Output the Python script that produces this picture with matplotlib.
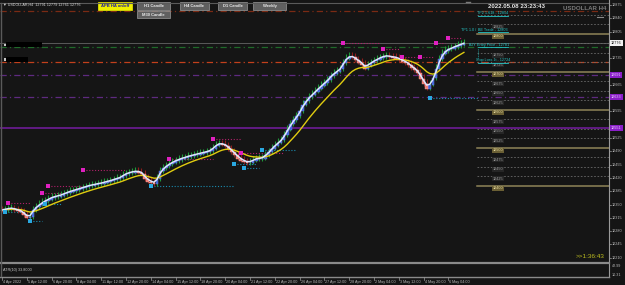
import numpy as np
import matplotlib
matplotlib.use('Agg')
import matplotlib.pyplot as plt
from matplotlib.patches import Rectangle

W, H = 625, 285
BG = '#151515'
plt.rcParams['font.family'] = ['Liberation Sans', 'DejaVu Sans']

# ---------------- data ----------------
closes = [12336, 12338, 12340, 12341, 12338, 12335, 12333, 12325, 12318, 12320,
          12338, 12346, 12352, 12357, 12362, 12366, 12370, 12372, 12374, 12376,
          12380, 12383, 12386, 12388, 12391, 12393, 12396, 12398, 12401, 12402,
          12404, 12406, 12407, 12410, 12412, 12414, 12417, 12420, 12422, 12428,
          12433, 12435, 12437, 12438, 12437, 12433, 12420, 12413, 12409, 12407,
          12420, 12440, 12448, 12454, 12459, 12463, 12467, 12470, 12473, 12475,
          12478, 12480, 12482, 12484, 12486, 12488, 12490, 12493, 12500, 12508,
          12512, 12510, 12506, 12498, 12490, 12482, 12474, 12468, 12464, 12461,
          12463, 12468, 12472, 12472, 12474, 12482, 12490, 12500, 12508, 12515,
          12522, 12535, 12550, 12564, 12575, 12585, 12598, 12615, 12625, 12635,
          12642, 12650, 12658, 12665, 12672, 12680, 12690, 12697, 12703, 12709,
          12725, 12737, 12742, 12740, 12733, 12726, 12720, 12710, 12718, 12725,
          12730, 12734, 12738, 12741, 12742, 12740, 12738, 12737, 12733, 12729,
          12725, 12720, 12712, 12706, 12698, 12684, 12670, 12658, 12668, 12685,
          12710, 12735, 12750, 12757, 12761, 12763, 12767, 12770, 12773, 12776]

x_labels = ["4 Apr 2022", "5 Apr 12:00", "6 Apr 20:00", "8 Apr 04:00", "11 Apr 12:00",
            "12 Apr 20:00", "14 Apr 04:00", "15 Apr 12:00", "18 Apr 20:00", "20 Apr 04:00",
            "21 Apr 12:00", "22 Apr 20:00", "26 Apr 04:00", "27 Apr 12:00", "28 Apr 20:00",
            "2 May 04:00", "3 May 12:00", "4 May 20:00", "6 May 04:00"]
x_label_bars = [0, 8, 16, 24, 32, 40, 48, 56, 64, 72, 80, 88, 96, 104, 112, 120, 128, 136, 144]

price_ticks = [12875, 12840, 12805, 12770, 12735, 12700, 12665, 12630, 12595, 12560,
               12525, 12490, 12455, 12420, 12385, 12350, 12315, 12280, 12245, 12210]
covered_ticks = [12770, 12700, 12630, 12560]

major_levels = [12800, 12700, 12600, 12500, 12400]
minor_levels = [12850, 12825, 12775, 12750, 12725, 12675, 12650, 12625,
                12575, 12550, 12525, 12475, 12450, 12425]
hidden_level_labels = [12850, 12775]

# swing highs / lows: bar, price, bar where dotted line ends
swing_high_bar = [2, 13, 15, 26, 54, 68, 77, 110, 123, 129, 135, 140, 144]
swing_high_px = [12354, 12380, 12399, 12441, 12470, 12522, 12485, 12775, 12759, 12738, 12738, 12775, 12788]
swing_high_end = [9, 19, 26, 40, 68, 77, 91, 122, 128, 134, 139, 143, 148]
swing_low_bar = [1, 9, 14, 48, 75, 78, 84, 138]
swing_low_px = [12330, 12307, 12351, 12399, 12457, 12446, 12493, 12630]
swing_low_end = [6, 13, 19, 75, 82, 83, 95, 154]

current_price = 12776
dash_levels = [12859, 12764, 12725, 12691, 12633]
dash_colors = ['#7a2a14', '#1f6a2a', '#c2401c', '#5e2a80', '#5e2a80']
solid_purple = 12551
tag_levels = [12691, 12633, 12551]

trade_labels = ["TP2 1.618 - 12854", "BE Trade - 12803", "Entry Price - 12781", "Stop Loss 1t - 12724"]
trade_prefix = ["", "TP1 1.0 /", "BUY", ""]
trade_y = [13.5, 30, 45, 60.5]

# ---------------- helpers ----------------
def fx(x):
    return x / W

def fy(y):
    return 1 - y / H

Y_TOP, Y_BOT = 3, 262
P_TOP, P_BOT = 12880.3, 12198.7

def ypix(p):
    return Y_TOP + (P_TOP - p) / (P_TOP - P_BOT) * (Y_BOT - Y_TOP)

fig = plt.figure(figsize=(W / 100, H / 100), dpi=100, facecolor=BG)
ax = fig.add_axes([0, fy(Y_BOT), fx(609), (Y_BOT - Y_TOP) / H])
ax.set_facecolor(BG)
XMIN, XMAX = (0 - 2) / 3.1, (609 - 2) / 3.1
ax.set_xlim(XMIN, XMAX)
ax.set_ylim(P_BOT, P_TOP)
ax.set_xticks([])
ax.set_yticks([])
for s in ax.spines.values():
    s.set_visible(False)

def bx(px):
    return (px - 2) / 3.1

# full width dash-dot levels
for lv, col in zip(dash_levels, dash_colors):
    ax.axhline(lv, color=col, lw=0.9, ls=(0, (5, 2.5, 1, 2.5)), zorder=1)
ax.axhline(solid_purple, color='#6d1c96', lw=1.2, zorder=1)
ax.axhline(current_price, color='#5a5a5a', lw=0.7, zorder=1)

# right-side level grid
xs0 = bx(477)
for lv in major_levels:
    ax.plot([xs0, XMAX], [lv, lv], color='#8f8458', lw=1.1, zorder=1)
    ax.text(bx(498), lv - 2, str(lv), fontsize=2.7, color='#e8dca0', ha='center', va='top',
            bbox=dict(boxstyle='square,pad=0.15', fc='#6a5f34', ec='none'), zorder=3)
for lv in minor_levels:
    ax.plot([xs0, XMAX], [lv, lv], color='#6a6a6a', lw=0.6, ls=(0, (2, 2)), zorder=1)
    if lv not in hidden_level_labels:
        ax.text(bx(498), lv - 2, str(lv), fontsize=2.7, color='#9a9a9a', ha='center', va='top',
                bbox=dict(boxstyle='square,pad=0.15', fc='#262626', ec='none'), zorder=3)

# swing markers
for b, p, e in zip(swing_high_bar, swing_high_px, swing_high_end):
    ax.plot([b, e], [p, p], color='#b0206a', lw=0.8, ls=(0, (1, 1.6)), zorder=2)
    ax.plot([b], [p], 's', color='#e020c0', ms=2.2, mew=0, zorder=6)
for b, p, e in zip(swing_low_bar, swing_low_px, swing_low_end):
    ax.plot([b, e], [p, p], color='#1a8cb0', lw=0.8, ls=(0, (1, 1.6)), zorder=2)
    ax.plot([b], [p], 's', color='#2aa8e0', ms=2.2, mew=0, zorder=6)

# candles
c = np.array(closes, dtype=float)
n = len(c)
idx = np.arange(n)
o = np.empty(n)
o[0] = c[0] + 2
o[1:] = c[:-1]
up = c >= o
body_lo = np.minimum(o, c)
body_h = np.maximum(np.abs(c - o), 1.5)
wick_up, wick_dn = 9, 7
ax.vlines(idx[up], body_lo[up] - wick_dn, body_lo[up] + body_h[up] + wick_up,
          color='#1f9a3a', lw=0.8, zorder=3)
ax.vlines(idx[~up], body_lo[~up] - wick_dn, body_lo[~up] + body_h[~up] + wick_up,
          color='#8e1c1c', lw=0.8, zorder=3)
ax.bar(idx[up], body_h[up], bottom=body_lo[up] - 3, width=0.85, color='#3d5fd6',
       edgecolor='#6f8cf0', lw=0.3, zorder=4)
ax.bar(idx[~up], body_h[~up], bottom=body_lo[~up] - 3, width=0.85, color='#f07a72',
       edgecolor='#f6a29c', lw=0.3, zorder=4)

def ema(a, span):
    k = 2 / (span + 1)
    out = np.empty_like(a)
    out[0] = a[0]
    for i in range(1, len(a)):
        out[i] = a[i] * k + out[i - 1] * (1 - k)
    return out

ax.plot(idx, ema(c, 12), color='#e0cc10', lw=1.0, zorder=5)
ax.plot(idx, ema(c, 2), color='#dfe6ff', lw=1.1, zorder=5)

# trade labels (cyan, underlined)
for lab, pre, y in zip(trade_labels, trade_prefix, trade_y):
    fig.text(fx(493), fy(y), lab, fontsize=2.7, color='#25c8c8', ha='center', va='center')
    fig.add_artist(plt.Line2D([fx(478), fx(508)], [fy(y + 2.4), fy(y + 2.4)],
                              color='#25c8c8', lw=0.6))
    if pre:
        fig.text(fx(476.5), fy(y), pre, fontsize=2.7, color='#25c8c8', ha='right', va='center')
fig.add_artist(plt.Line2D([fx(478), fx(478)], [fy(49), fy(58)], color='#25c8c8', lw=0.6,
                          ls=(0, (1, 1.5))))

# frame lines
fig.add_artist(plt.Line2D([0, fx(609)], [fy(2.5), fy(2.5)], color='#5a5a5a', lw=0.8))
fig.add_artist(plt.Line2D([fx(609), fx(609)], [fy(0), fy(277)], color='#9a9a9a', lw=0.8))
fig.add_artist(plt.Line2D([0, fx(609)], [fy(263), fy(263)], color='#8a8a8a', lw=1.6))
fig.add_artist(plt.Line2D([0, fx(609)], [fy(276.5), fy(276.5)], color='#8a8a8a', lw=1.0))
fig.add_artist(plt.Line2D([fx(1), fx(1)], [fy(2.5), fy(276)], color='#5a5a5a', lw=1.0))
fig.add_artist(plt.Line2D([fx(466), fx(470)], [fy(1.5), fy(1.5)], color='#7a7a7a', lw=1.0))

# right price axis
for p in price_ticks:
    y = ypix(p)
    fig.add_artist(plt.Line2D([fx(609), fx(611)], [fy(y), fy(y)], color='#9a9a9a', lw=0.5))
    if p not in covered_ticks:
        fig.text(fx(612), fy(y), str(p), fontsize=2.7, color='#b8b8b8', ha='left', va='center')

fig.text(fx(611), fy(ypix(current_price)), str(current_price), fontsize=2.7, color='#101010',
         ha='left', va='center', bbox=dict(boxstyle='square,pad=0.25', fc='#f0f0f0', ec='none'))
for p in tag_levels:
    fig.text(fx(611), fy(ypix(p)), str(p), fontsize=2.7, color='#e8c8ff', ha='left', va='center',
             bbox=dict(boxstyle='square,pad=0.25', fc='#8a1fc8', ec='none'))

# indicator pane
fig.text(fx(3), fy(269.5), "ATR(10) 33.8000", fontsize=2.7, color='#c8c8c8', ha='left', va='center')
fig.text(fx(612), fy(266), "42.99", fontsize=2.7, color='#b8b8b8', ha='left', va='center')
fig.text(fx(612), fy(274.5), "10.31", fontsize=2.7, color='#b8b8b8', ha='left', va='center')

# time axis
for b, lab in zip(x_label_bars, x_labels):
    xp = 2 + 3.1 * b
    fig.add_artist(plt.Line2D([fx(xp), fx(xp)], [fy(277), fy(279.5)], color='#9a9a9a', lw=0.5))
    fig.text(fx(xp + 1), fy(281.5), lab, fontsize=2.7, color='#b8b8b8', ha='left', va='center')

# header
fig.text(fx(3), fy(4.5), "\u25bc USDOLLAR,H4  12791 12779 12761 12776", fontsize=2.7,
         color='#d8d8d8', ha='left', va='center')
fig.text(fx(516), fy(6), "2022.05.08 23:23:43", fontsize=4.4, color='#e6e6e6',
         ha='center', va='center', fontweight='bold')
fig.text(fx(585), fy(9), "USDOLLAR H4", fontsize=4.4, color='#7a7a7a',
         ha='center', va='center', fontweight='bold')
fig.add_artist(plt.Line2D([fx(597), fx(603)], [fy(17), fy(17)], color='#8a8a8a', lw=0.8))
fig.text(fx(590), fy(256), ">>1:36:43", fontsize=4.6, color='#c0c020', ha='center', va='center')

# buttons
def button(x0, y0, x1, y1, label, fc, tc, ec):
    fig.add_artist(Rectangle((fx(x0), fy(y1)), fx(x1) - fx(x0), fy(y0) - fy(y1),
                             transform=fig.transFigure, fc=fc, ec=ec, lw=0.5))
    fig.text((fx(x0) + fx(x1)) / 2, (fy(y0) + fy(y1)) / 2, label, fontsize=3.0, color=tc,
             ha='center', va='center', fontweight='bold')

button(98, 2, 132, 9.5, "APB HA on/off", '#f0f000', '#1a1aa0', '#f0f000')
button(137, 2, 170, 9.5, "H1 Candle", '#606060', '#e8e8e8', '#9a9a9a')
button(180, 2, 209, 9.5, "H4 Candle", '#606060', '#e8e8e8', '#9a9a9a')
button(218, 2, 247, 9.5, "D1 Candle", '#606060', '#e8e8e8', '#9a9a9a')
button(253, 2, 286, 9.5, "Weekly", '#606060', '#e8e8e8', '#9a9a9a')
button(137, 11, 170, 18, "M30 Candle", '#606060', '#e8e8e8', '#9a9a9a')

# black info boxes at left
fig.add_artist(Rectangle((fx(6), fy(47)), fx(36), fy(42) - fy(47), transform=fig.transFigure,
                         fc='#000000', ec='none'))
fig.add_artist(Rectangle((fx(6), fy(62)), fx(22), fy(57.5) - fy(62), transform=fig.transFigure,
                         fc='#000000', ec='none'))
fig.add_artist(Rectangle((fx(4), fy(46)), fx(2), fy(43.5) - fy(46), transform=fig.transFigure,
                         fc='#c8c8c8', ec='none'))
fig.add_artist(Rectangle((fx(4), fy(61)), fx(2), fy(58.5) - fy(61), transform=fig.transFigure,
                         fc='#c8c8c8', ec='none'))

fig.savefig('out.png', dpi=100, facecolor=BG)
